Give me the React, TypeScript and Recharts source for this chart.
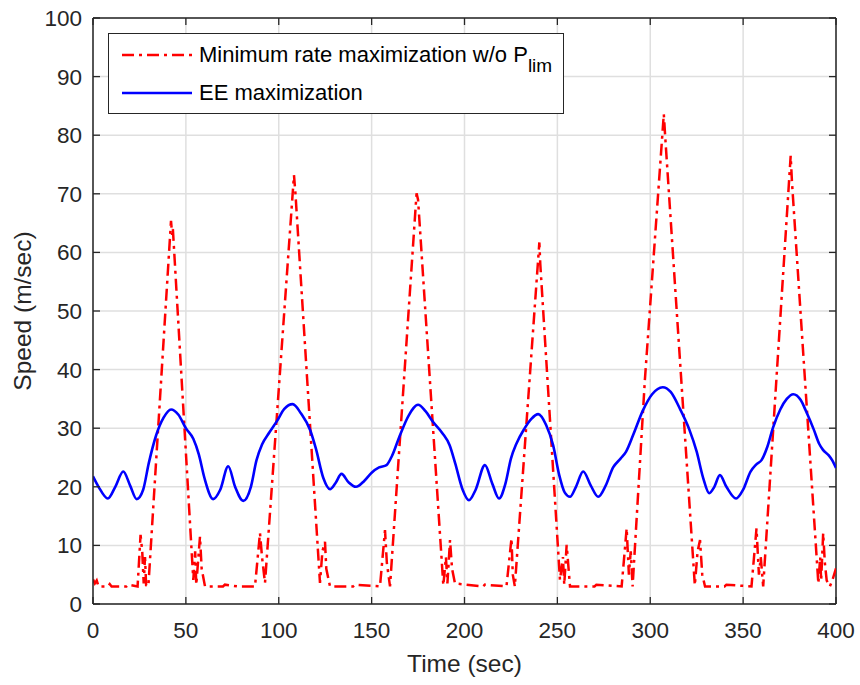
import React from 'react';
import {
  LineChart,
  Line,
  XAxis,
  YAxis,
  CartesianGrid,
  ReferenceLine,
  Legend,
} from 'recharts';

// time axis (sec) and speed (m/sec)
const timeTicks = [0, 50, 100, 150, 200, 250, 300, 350, 400];
const speedTicks = [0, 10, 20, 30, 40, 50, 60, 70, 80, 90, 100];

const minRateTime = [
  0, 1, 2, 3, 5, 8, 9, 10, 18, 19, 24, 25.6, 26.5, 27.3, 28, 28.6, 29.8, 42, 42.6, 43, 54, 55, 55.6, 57.6, 58.5, 60.3,
  70, 71, 78, 87.2, 89.9, 91, 92.6, 108.2, 109, 122.2, 123.5, 124.9, 125.6, 127.6, 140, 141, 154.5, 157.2, 158.2,
  159.9, 174.2, 175, 188.6, 190, 190.8, 192.2, 193.3, 194.9, 210, 211, 222.6, 225.3, 226, 227.1, 240.3, 240.8,
  251.4, 253, 253.7, 255, 256.8, 270, 271, 284.6, 287.3, 288.5, 289.5, 290.5, 297.1, 307.3, 308, 324, 325.5, 326.8,
  328, 329.5, 340, 341, 354.5, 357.2, 358.5, 359.5, 360.8, 375.6, 376.3, 390.5, 391.5, 392, 393.1, 394, 395, 396.7,
  398, 400,
];
const minRateSpeed = [
  4.2, 3.5, 4.0, 3.0, 3.0, 3.0, 3.4, 3.0, 3.0, 3.3, 3.0, 11.8, 9, 3.5, 8, 3.2, 3.0, 65.4, 63, 64, 4.1, 9, 3.3, 11.5, 6, 3.0,
  3.0, 3.3, 3.0, 3.0, 12.1, 8, 3.6, 73.2, 70, 3.6, 9, 10.6, 6, 3.0, 3.0, 3.3, 3.0, 12.6, 7,
  3.0, 70.1, 69, 3.2, 8, 3.5, 10.9, 6, 3.5, 3.0, 3.3, 3.0, 11.2, 5, 3.0, 61.7, 58,
  4.1, 8, 3.3, 10.1, 3.0, 3.0, 3.3, 3.0, 12.9, 5, 9, 3.0, 38.2, 83.6, 80, 3.2, 9, 10.9,
  5, 3.0, 3.0, 3.3, 3.0, 12.9, 5, 8, 3.0, 76.5, 72, 3.5, 8, 4, 12.1, 7, 4, 3.0,
  4, 6.1,
];

const eeTime = [
  0, 3, 8, 12, 16.3, 20, 23.5, 27, 30, 34, 38, 42, 46, 50, 54, 57, 60, 64.7, 68.5, 72.8, 76.5, 80.9, 85, 88, 91, 95,
  99, 103, 107.5, 112, 117, 120, 124, 127.6, 130.5, 133.8, 137.5, 141.6, 146, 150, 154, 158, 161, 165, 170, 175,
  179, 183, 188, 192, 195, 199, 202.4, 206, 211, 215, 218.6, 222, 225, 228, 232, 236, 239.7, 244, 247.7, 251, 254,
  256.8, 260, 263.9, 268, 272, 276, 280, 284, 287, 291, 296, 301, 306.7, 311, 316, 321, 325, 328.5, 331.8, 334.5,
  337.5, 341, 346.2, 350, 354, 357, 360, 363, 366, 370, 373.5, 377, 381, 384, 388, 391, 393, 396, 398, 400,
];
const eeSpeed = [
  21.8, 20.0, 18.0, 20.0, 22.6, 20.2, 17.9, 19.5, 24, 28.8, 31.8, 33.2, 32.3, 30.0, 28.2, 25.5, 21.5, 17.9, 19.5, 23.5,
  20.0, 17.6, 20, 24.5, 27.2, 29.3, 31.2, 33.3, 34.1, 32.5, 29.6, 26.5, 21.5, 19.6, 20.6, 22.2, 20.8, 20.0, 21.0,
  22.4, 23.3, 23.7, 25.3, 28.6, 32.2, 34.0, 32.9, 31.1, 29.2, 27.1, 24, 19.5, 17.7, 19.5, 23.7, 20.5, 18.0, 20.5,
  24.8, 27.4, 29.8, 31.6, 32.4, 30.5, 27.1, 22.0, 19.0, 18.3, 20.0, 22.6, 20.2, 18.3, 20.2, 23.3, 24.8, 26.0, 29.0,
  33.0, 35.8, 37.0, 36.2, 33.3, 29.8, 26.0, 21.5, 18.9, 20.0, 22.0, 20.0, 18.0, 19.5, 22.6, 23.8, 24.6, 26.8, 30.0,
  33.2, 35.0, 35.8, 34.8, 32.8, 29.8, 27.3, 26.3, 25.4, 24.5, 23.2,
];

const minRateData = minRateTime.map((t, i) => ({ t, v: minRateSpeed[i] }));
const eeData = eeTime.map((t, i) => ({ t, v: eeSpeed[i] }));

const FONT = '"Liberation Sans", Arial, Helvetica, sans-serif';
const AXIS = '#262626';
const PLOT_TOP = 18;
const PLOT_BOTTOM = 604;
const PLOT_LEFT = 93;
const PLOT_RIGHT = 836;
const TICK_LEN = 7;

const XTick = (props: any) => {
  const { x, payload } = props;
  return (
    <g>
      <line x1={x} x2={x} y1={PLOT_BOTTOM} y2={PLOT_BOTTOM - TICK_LEN} stroke={AXIS} strokeWidth={1.3} />
      <line x1={x} x2={x} y1={PLOT_TOP} y2={PLOT_TOP + TICK_LEN} stroke={AXIS} strokeWidth={1.3} />
      <text x={x} y={PLOT_BOTTOM + 34} textAnchor="middle" fill={AXIS} fontSize={22.5} fontFamily={FONT}>
        {payload.value}
      </text>
    </g>
  );
};

const YTick = (props: any) => {
  const { y, payload } = props;
  return (
    <g>
      <line x1={PLOT_LEFT} x2={PLOT_LEFT + TICK_LEN} y1={y} y2={y} stroke={AXIS} strokeWidth={1.3} />
      <line x1={PLOT_RIGHT} x2={PLOT_RIGHT - TICK_LEN} y1={y} y2={y} stroke={AXIS} strokeWidth={1.3} />
      <text x={PLOT_LEFT - 11} y={y + 8} textAnchor="end" fill={AXIS} fontSize={22.5} fontFamily={FONT}>
        {payload.value}
      </text>
    </g>
  );
};

const renderLegend = () => {
  const row: React.CSSProperties = { display: 'flex', alignItems: 'center', height: 38 };
  const text: React.CSSProperties = { fontSize: 22, color: '#000', whiteSpace: 'nowrap' };
  return (
    <div
      style={{
        width: 454,
        height: 77,
        border: `1.3px solid ${AXIS}`,
        background: '#fff',
        fontFamily: FONT,
        boxSizing: 'content-box',
        paddingTop: 2,
      }}
    >
      <div style={row}>
        <svg width={90} height={20} style={{ flexShrink: 0 }}>
          <line x1={13} x2={83} y1={10} y2={10} stroke="#ff0000" strokeWidth={2.5} strokeDasharray="12 5 3 5" />
        </svg>
        <span style={text}>
          Minimum rate maximization w/o P
          <span style={{ fontSize: 19, position: 'relative', top: 10 }}>lim</span>
        </span>
      </div>
      <div style={row}>
        <svg width={90} height={20} style={{ flexShrink: 0 }}>
          <line x1={13} x2={83} y1={10} y2={10} stroke="#0000ff" strokeWidth={2.6} />
        </svg>
        <span style={text}>EE maximization</span>
      </div>
    </div>
  );
};

export default function App() {
  return (
    <div style={{ position: 'absolute', left: 0, top: 0, width: 860, height: 685, background: '#fff' }}>
      <LineChart width={860} height={685} margin={{ top: PLOT_TOP, right: 860 - PLOT_RIGHT, left: 0, bottom: 0 }}>
        <CartesianGrid stroke="#dfdfdf" strokeWidth={1.5} />
        <XAxis
          dataKey="t"
          type="number"
          domain={[0, 400]}
          ticks={timeTicks}
          height={685 - PLOT_BOTTOM}
          tick={<XTick />}
          tickLine={false}
          axisLine={{ stroke: AXIS, strokeWidth: 1.5 }}
          allowDataOverflow
          label={{
            value: 'Time (sec)',
            position: 'insideBottom',
            offset: 13,
            style: { fontSize: 24.5, fontFamily: FONT, fill: AXIS },
          }}
        />
        <YAxis
          type="number"
          domain={[0, 100]}
          ticks={speedTicks}
          width={PLOT_LEFT}
          tick={<YTick />}
          tickLine={false}
          axisLine={{ stroke: AXIS, strokeWidth: 1.5 }}
          allowDataOverflow
          label={{
            value: 'Speed (m/sec)',
            angle: -90,
            position: 'insideLeft',
            offset: 22,
            style: { fontSize: 24.5, fontFamily: FONT, fill: AXIS, textAnchor: 'middle' },
          }}
        />
        <ReferenceLine y={100} stroke={AXIS} strokeWidth={1.5} />
        <ReferenceLine x={400} stroke={AXIS} strokeWidth={1.5} />
        <Line
          data={minRateData}
          dataKey="v"
          type="linear"
          stroke="#ff0000"
          strokeWidth={2.5}
          strokeDasharray="12 5 3 5"
          dot={false}
          isAnimationActive={false}
        />
        <Line
          data={eeData}
          dataKey="v"
          type="monotone"
          stroke="#0000ff"
          strokeWidth={2.6}
          dot={false}
          isAnimationActive={false}
        />
        <Legend
          verticalAlign="middle"
          align="center"
          content={renderLegend}
          wrapperStyle={{ left: 108, top: 33, width: 'auto', height: 'auto' }}
        />
      </LineChart>
    </div>
  );
}
